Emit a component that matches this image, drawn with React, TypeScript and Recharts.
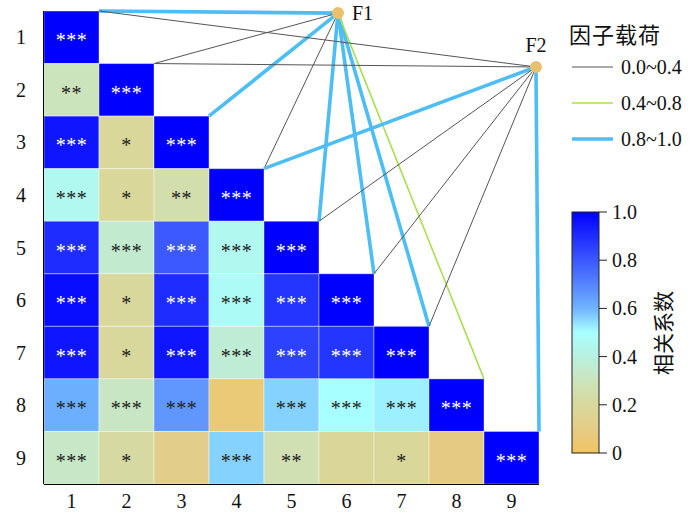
import React from 'react';
import { ScatterChart, Scatter, XAxis, YAxis, ReferenceLine, ReferenceDot } from 'recharts';

// 变量编号
const varLabels = ['1', '2', '3', '4', '5', '6', '7', '8', '9'];

// 相关系数（下三角，含对角线）
const corrRows = [
  [1],
  [0.3, 1],
  [0.95, 0.19, 1],
  [0.45, 0.19, 0.25, 1],
  [0.9, 0.35, 0.8, 0.45, 1],
  [0.97, 0.2, 0.9, 0.47, 0.88, 1],
  [0.95, 0.2, 0.95, 0.37, 0.85, 0.88, 1],
  [0.61, 0.32, 0.66, 0.06, 0.56, 0.5, 0.52, 1],
  [0.33, 0.22, 0.12, 0.56, 0.27, 0.18, 0.19, 0.09, 1],
];

// 显著性
const sigRows = [
  ['***'],
  ['**', '***'],
  ['***', '*', '***'],
  ['***', '*', '**', '***'],
  ['***', '***', '***', '***', '***'],
  ['***', '*', '***', '***', '***', '***'],
  ['***', '*', '***', '***', '***', '***', '***'],
  ['***', '***', '***', '', '***', '***', '***', '***'],
  ['***', '*', '', '***', '**', '', '*', '', '***'],
];

// 因子载荷等级 (low 0.0~0.4, mid 0.4~0.8, high 0.8~1.0, null 无连线)
const f1Loadings = ['high', 'low', 'high', 'low', 'high', 'high', 'high', 'mid', null];
const f2Loadings = ['low', 'low', null, 'high', 'low', 'low', 'low', null, 'high'];

const loadingLegend = [
  { key: 'low', label: '0.0~0.4' },
  { key: 'mid', label: '0.4~0.8' },
  { key: 'high', label: '0.8~1.0' },
];

const colorbarTicks = [1.0, 0.8, 0.6, 0.4, 0.2, 0];

// 因子节点在数据坐标中的位置
const factorNodes = [
  { name: 'F1', x: 5.845, y: 0.54, loadings: f1Loadings, labelPos: 'right' },
  { name: 'F2', x: 9.445, y: 1.565, loadings: f2Loadings, labelPos: 'top' },
];

const W = 700;
const H = 516;
const MARGIN = { top: 11, right: 161, bottom: 0, left: 4 };
const Y_AXIS_W = 40;
const X_AXIS_H = 32;
const CELL_W = (W - MARGIN.left - MARGIN.right - Y_AXIS_W) / 9;
const CELL_H = (H - MARGIN.top - MARGIN.bottom - X_AXIS_H) / 9;

const SERIF = '"Liberation Serif", "Times New Roman", serif';
const CJK = '"Noto Sans CJK SC", sans-serif';

const COLOR_STOPS: [number, string][] = [
  [0, '#f2c460'],
  [0.1, '#e4cc86'],
  [0.2, '#d8d89c'],
  [0.3, '#cce4bc'],
  [0.4, '#b8f0e0'],
  [0.5, '#a8ffff'],
  [0.6, '#70b4ff'],
  [0.7, '#5484ff'],
  [0.8, '#3c58ff'],
  [0.9, '#1e2cff'],
  [1.0, '#0000ff'],
];

const LINE_STYLE: Record<string, { stroke: string; width: number }> = {
  low: { stroke: '#555555', width: 1 },
  mid: { stroke: '#a8e050', width: 1.6 },
  high: { stroke: '#4dbdf5', width: 3.6 },
};

function hexToRgb(h: string) {
  const n = parseInt(h.slice(1), 16);
  return [(n >> 16) & 255, (n >> 8) & 255, n & 255];
}

function colorOf(v: number) {
  for (let i = 1; i < COLOR_STOPS.length; i++) {
    const [t1, c1] = COLOR_STOPS[i];
    const [t0, c0] = COLOR_STOPS[i - 1];
    if (v <= t1) {
      const f = (v - t0) / (t1 - t0);
      const a = hexToRgb(c0);
      const b = hexToRgb(c1);
      const m = a.map((x, k) => Math.round(x + (b[k] - x) * f));
      return `rgb(${m[0]},${m[1]},${m[2]})`;
    }
  }
  return COLOR_STOPS[COLOR_STOPS.length - 1][1];
}

const cellData = corrRows.flatMap((row, i) =>
  row.map((v, j) => ({ x: j + 1, y: i + 1, v, sig: sigRows[i][j] }))
);

const HeatCell = (props: any) => {
  const { cx, cy, payload } = props;
  if (cx == null || cy == null) return null;
  const dark = payload.v >= 0.72;
  return (
    <g>
      <rect
        x={cx - CELL_W / 2}
        y={cy - CELL_H / 2}
        width={CELL_W}
        height={CELL_H}
        fill={colorOf(payload.v)}
        stroke="#ffffff"
        strokeOpacity={0.4}
        strokeWidth={1}
      />
      {payload.sig && (
        <text
          x={cx}
          y={cy + 10}
          textAnchor="middle"
          fontSize={20}
          letterSpacing={0.5}
          fontFamily={SERIF}
          fill={dark ? '#ffffff' : '#222222'}
        >
          {payload.sig}
        </text>
      )}
    </g>
  );
};

const ticks = varLabels.map((_, i) => i + 1);

function Overlay() {
  const cbX = 572;
  const cbY = 212;
  const cbW = 27;
  const cbH = 241;
  return (
    <svg width={W} height={H} style={{ position: 'absolute', left: 0, top: 0, pointerEvents: 'none' }}>
      <defs>
        <linearGradient id="cbar" x1="0" y1="1" x2="0" y2="0">
          {COLOR_STOPS.map(([t, c]) => (
            <stop key={t} offset={`${t * 100}%`} stopColor={c} />
          ))}
        </linearGradient>
      </defs>
      <text x={569} y={43} fontSize={22} letterSpacing={1} fontFamily={CJK} fill="#111">因子载荷</text>
      {loadingLegend.map((item, i) => {
        const y = 67 + i * 36;
        const s = LINE_STYLE[item.key];
        return (
          <g key={item.key}>
            <line x1={572} x2={613} y1={y} y2={y} stroke={s.stroke} strokeWidth={s.width} />
            <text x={621} y={y + 7} fontSize={20} fontFamily={SERIF} fill="#111">{item.label}</text>
          </g>
        );
      })}
      <rect x={cbX} y={cbY} width={cbW} height={cbH} fill="url(#cbar)" stroke="#222" strokeWidth={1} />
      {colorbarTicks.map((t) => {
        const y = cbY + (1 - t) * cbH;
        return (
          <g key={t}>
            <line x1={cbX + cbW} x2={cbX + cbW + 8} y1={y} y2={y} stroke="#222" strokeWidth={1} />
            <text x={cbX + cbW + 13} y={y + 7} fontSize={20} fontFamily={SERIF} fill="#111">
              {t === 0 ? '0' : t.toFixed(1)}
            </text>
          </g>
        );
      })}
      <text
        x={662}
        y={333}
        fontSize={21}
        fontFamily={CJK}
        fill="#111"
        textAnchor="middle"
        dominantBaseline="central"
        transform="rotate(-90 662 333)"
      >
        相关系数
      </text>
    </svg>
  );
}

export default function App() {
  return (
    <div style={{ position: 'absolute', left: 0, top: 0, width: W, height: H, background: '#fff' }}>
      <ScatterChart width={W} height={H} margin={MARGIN}>
        <XAxis
          type="number"
          dataKey="x"
          domain={[0.5, 9.5]}
          ticks={ticks}
          tickFormatter={(v) => varLabels[v - 1]}
          height={X_AXIS_H}
          tickSize={0}
          tickMargin={10}
          axisLine={{ stroke: '#000', strokeWidth: 2 }}
          tick={{ fontSize: 20, fill: '#111', fontFamily: SERIF }}
          allowDataOverflow
        />
        <YAxis
          type="number"
          dataKey="y"
          domain={[0.5, 9.5]}
          reversed
          ticks={ticks}
          tickFormatter={(v) => varLabels[v - 1]}
          width={Y_AXIS_W}
          tickSize={0}
          tickMargin={18}
          axisLine={{ stroke: '#000', strokeWidth: 2 }}
          tick={{ fontSize: 20, fill: '#111', fontFamily: SERIF }}
          allowDataOverflow
        />
        <Scatter data={cellData} shape={HeatCell} isAnimationActive={false} />
        {factorNodes.flatMap((f) =>
          f.loadings.map((lv, i) => {
            if (!lv) return null;
            const s = LINE_STYLE[lv];
            return (
              <ReferenceLine
                key={`${f.name}-${i}`}
                segment={[
                  { x: f.x, y: f.y },
                  { x: i + 1.5, y: i + 0.5 },
                ]}
                stroke={s.stroke}
                strokeWidth={s.width}
              />
            );
          })
        )}
        {factorNodes.map((f) => (
          <ReferenceDot
            key={f.name}
            x={f.x}
            y={f.y}
            r={6}
            fill="#e9c06c"
            stroke="none"
            label={{
              value: f.name,
              position: f.labelPos as any,
              offset: f.labelPos === 'top' ? 9 : 8,
              fontSize: 20,
              fill: '#111',
              fontFamily: SERIF,
            }}
          />
        ))}
      </ScatterChart>
      <Overlay />
    </div>
  );
}
